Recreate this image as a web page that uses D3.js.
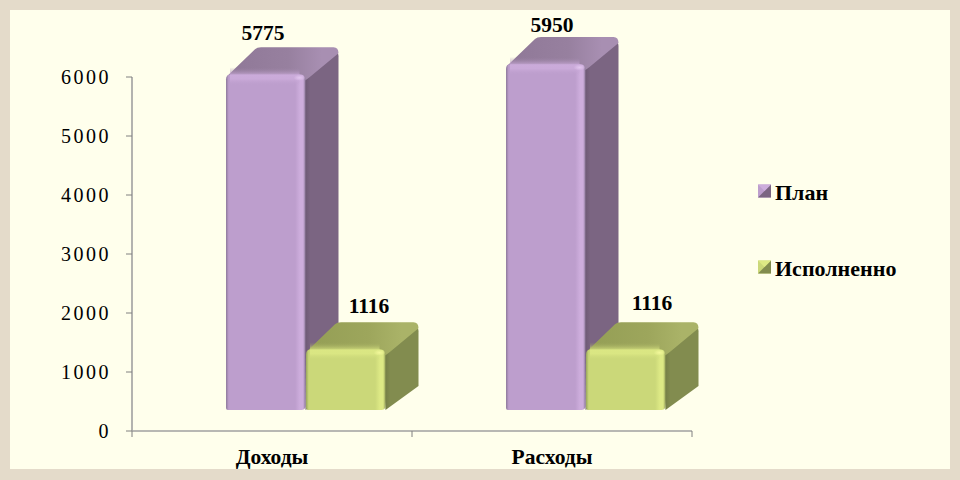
<!DOCTYPE html>
<html><head><meta charset="utf-8">
<script src="https://cdn.jsdelivr.net/npm/d3@7"></script>
<style>html,body{margin:0;padding:0;background:#E4DBCA}svg{display:block}text{font-family:"Liberation Serif",serif;fill:#000}</style>
</head><body><svg id="c" width="960" height="480"></svg>
<script>
const categories=["Доходы","Расходы"];
const seriesNames=["План","Исполненно"];
const planValues=[5775,5950];
const doneValues=[1116,1116];
const yTicks=[0,1000,2000,3000,4000,5000,6000];
const palette={
 "План":{front:"#BD9ECD",hi:"#CDADDC",spot:"#E2C6EE",lo:"#8E7A9B",top:"#97809F",topHi:"#A88FB2",topLo:"#8F7897",side:"#7B6582",sideLo:"#66536D"},
 "Исполненно":{front:"#CBD879",hi:"#DDE985",spot:"#F2F79A",lo:"#99A55C",top:"#9DA65C",topHi:"#AAB368",topLo:"#949E55",side:"#828C4F",sideLo:"#6E7741"}
};
const svg=d3.select("#c");
svg.append("rect").attr("width",960).attr("height",480).attr("fill","#E4DBCA");
svg.append("rect").attr("x",10).attr("y",10).attr("width",940).attr("height",459).attr("fill","#FFFFEC");
const defs=svg.append("defs");
const y=d3.scaleLinear().domain([0,6000]).range([431,77]);
const x0=d3.scaleBand().domain(categories).range([132,692]);
const x1=d3.scaleBand().domain(seriesNames).range([94,254]);
const depth={dx:33,dy:24,topDy:26},floorShift=21,wallShift=17;
const keyId=n=>seriesNames.indexOf(n);
seriesNames.forEach(n=>{
 const p=palette[n],k=keyId(n);
 const f=defs.append("linearGradient").attr("id","f"+k);
 [[0,p.lo],[.035,p.front],[.87,p.front],[.93,p.hi],[.97,p.hi],[1,p.lo]].forEach(s=>f.append("stop").attr("offset",s[0]).attr("stop-color",s[1]));
 const e=defs.append("linearGradient").attr("id","e"+k).attr("x1",0).attr("x2",0).attr("y1",0).attr("y2",1);
 [[0,p.top,0],[.45,p.hi,.85],[.65,p.hi,.8],[1,p.front,0]].forEach(s=>e.append("stop").attr("offset",s[0]).attr("stop-color",s[1]).attr("stop-opacity",s[2]));
 const t=defs.append("linearGradient").attr("id","t"+k).attr("x1",0).attr("x2",1).attr("y1",0).attr("y2",0);
 [[0,p.topLo],[.55,p.top],[.85,p.topHi],[1,p.topHi]].forEach(s=>t.append("stop").attr("offset",s[0]).attr("stop-color",s[1]));
 const sd=defs.append("linearGradient").attr("id","s"+k);
 [[0,p.sideLo],[.22,p.side],[1,p.side]].forEach(s=>sd.append("stop").attr("offset",s[0]).attr("stop-color",s[1]));
 const sp=defs.append("radialGradient").attr("id","p"+k);
 [[0,p.spot,1],[1,p.spot,0]].forEach(s=>sp.append("stop").attr("offset",s[0]).attr("stop-color",s[1]).attr("stop-opacity",s[2]));
});
// axes
const ax=svg.append("g").attr("stroke","#A0A0A0").attr("fill","none");
ax.append("line").attr("x1",132).attr("x2",132).attr("y1",y(6000)).attr("y2",y(0)).attr("stroke-width",1.6);
ax.append("line").attr("x1",132).attr("x2",692).attr("y1",y(0)).attr("y2",y(0)).attr("stroke-width",1.6);
ax.selectAll(".yt").data(yTicks).join("line").attr("x1",126).attr("x2",132).attr("y1",d=>y(d)).attr("y2",d=>y(d)).attr("stroke","#808080");
ax.selectAll(".xt").data(x0.range().concat([x0(categories[1])])).join("line").attr("x1",d=>d).attr("x2",d=>d).attr("y1",431).attr("y2",437).attr("stroke","#808080");
svg.selectAll(".yl").data(yTicks).join("text").attr("x",111).attr("y",d=>y(d)+6.5).attr("text-anchor","end").attr("font-size",20).attr("letter-spacing",2.5).text(d=>d);
svg.selectAll(".xl").data(categories).join("text").attr("x",d=>x0(d)+x0.bandwidth()/2).attr("y",464).attr("text-anchor","middle").attr("font-size",21.5).attr("font-weight","bold").text(d=>d);
// bars
const rows=categories.flatMap((c,i)=>[{c,n:seriesNames[0],v:planValues[i],i},{c,n:seriesNames[1],v:doneValues[i],i}]);
const base=y(0)-floorShift;
const g=svg.selectAll(".bar").data(rows).join("g");
g.each(function(d){
 const s=d3.select(this),k=keyId(d.n),w=79.5;
 const L=x0(d.c)+x1(d.n),R=L+w,T=y(d.v)-wallShift,dx=depth.dx,dy=depth.dy,td=depth.topDy;
 s.append("path").attr("fill",`url(#s${k})`).attr("d",`M${R-3},${T+3}L${R+dx-3},${T-td+5}Q${R+dx},${T-td+5} ${R+dx},${T-td+9}L${R+dx},${base-dy}L${R},${base}Z`);
 s.append("path").attr("fill",`url(#t${k})`).attr("d",`M${L+1},${T+3}L${L+dx-4},${T-td+2}Q${L+dx-2},${T-td} ${L+dx+2},${T-td}L${R+dx-5},${T-td}Q${R+dx},${T-td} ${R+dx},${T-td+6}L${R+4},${T+4}L${R},${T+7}L${L+1},${T+7}Z`);
 s.append("path").attr("fill",`url(#f${k})`).attr("d",`M${L},${T+6}Q${L},${T+1} ${L+6},${T+1}L${R-6},${T+1}Q${R},${T+1} ${R},${T+7}L${R},${base-3}Q${R-1},${base} ${R-4},${base}L${L+2},${base}Q${L},${base} ${L},${base-2}Z`);
 s.append("rect").attr("x",L+4).attr("y",T-6).attr("width",w-10).attr("height",18).attr("fill",`url(#e${k})`);
 s.append("ellipse").attr("cx",R-6).attr("cy",T+4.5).attr("rx",6).attr("ry",3).attr("fill",`url(#p${k})`);
});
// label offsets from the bar's front-top corner, per series and category
const labelDx=[[37,46],[63,66]],labelDy=[[33,31],[35,38]];
svg.selectAll(".vl").data(rows).join("text").attr("x",d=>x0(d.c)+x1(d.n)+labelDx[keyId(d.n)][d.i]).attr("y",d=>y(d.v)-wallShift-labelDy[keyId(d.n)][d.i]).attr("text-anchor","middle").attr("font-size",21.5).attr("font-weight","bold").text(d=>d.v);
// legend
const ly=d3.scalePoint().domain(seriesNames).range([191,267]);
const lg=svg.selectAll(".lg").data(seriesNames).join("g").attr("transform",d=>`translate(758,${ly(d)})`);
lg.each(function(n){
 const s=d3.select(this),p=palette[n];
 s.append("rect").attr("x",0).attr("y",-6.5).attr("width",13).attr("height",13).attr("fill",p.front);
 s.append("path").attr("d","M0,6.5L6.5,0L13,-6.5L13,6.5Z").attr("fill",p.side);
 s.append("path").attr("d","M0,-6.5L6.5,0L13,-6.5Z").attr("fill",p.hi);
});
lg.append("text").attr("x",17).attr("y",9).attr("font-size",22).attr("font-weight","bold").text(d=>d);
</script></body></html>
